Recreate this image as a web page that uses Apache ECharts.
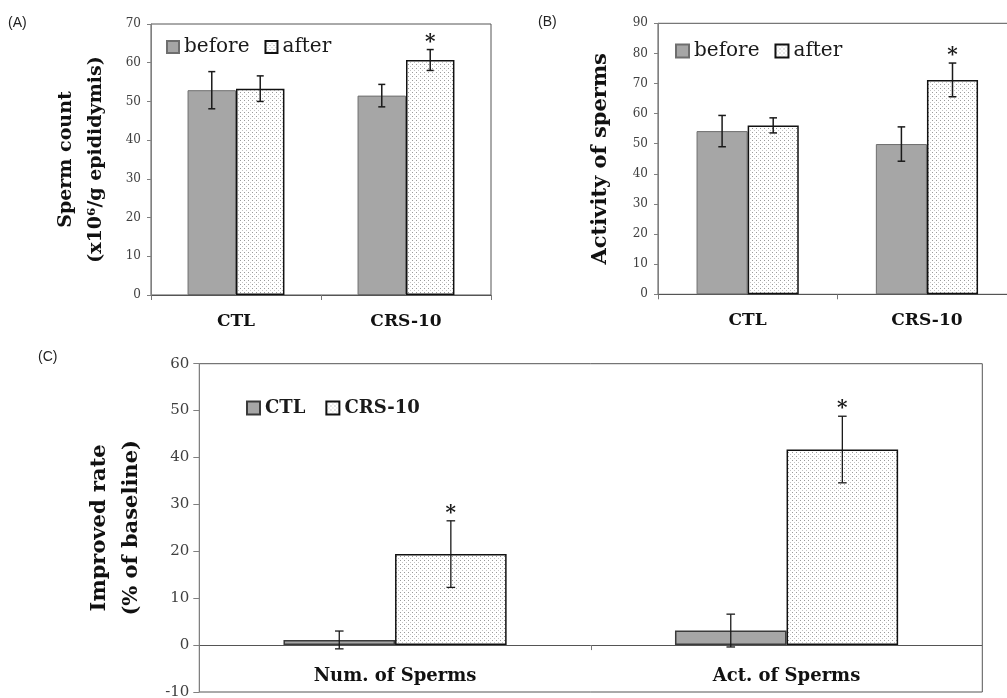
<!DOCTYPE html>
<html>
<head>
<meta charset="utf-8">
<script src="https://cdn.jsdelivr.net/npm/echarts@6/dist/echarts.min.js"></script>
<style>
html,body{margin:0;padding:0;background:#fff;}
#chart{width:1007px;height:698px;}
</style>
</head>
<body>
<div id="chart"></div>
<script>
// ---------- data ----------
const catsAB = ['CTL', 'CRS-10'];
const beforeA = [52.9, 51.5];
const beforeAErr = [4.8, 2.9];
const afterA = [53.3, 60.7];
const afterAErr = [3.3, 2.7];
const afterASig = [0, 1];

const beforeB = [54.2, 49.9];
const beforeBErr = [5.2, 5.7];
const afterB = [56.1, 71.2];
const afterBErr = [2.5, 5.6];
const afterBSig = [0, 1];

const catsC = ['Num. of Sperms', 'Act. of Sperms'];
const ctlC = [1.1, 3.1];
const ctlCErr = [1.9, 3.5];
const crsC = [19.4, 41.7];
const crsCErr = [7.1, 7.1];
const crsCSig = [1, 1];

const ticksA = {min: 0, max: 70, interval: 10};
const ticksB = {min: 0, max: 90, interval: 10};
const ticksC = {min: -10, max: 60, interval: 10};

// ---------- styles ----------
const SERIF = 'DejaVu Serif';
const GAP = 0.43;
function dotPattern() {
  const c = document.createElement('canvas');
  c.width = 4; c.height = 4;
  const g = c.getContext('2d');
  g.fillStyle = '#ffffff'; g.fillRect(0, 0, 4, 4);
  g.fillStyle = '#9a9a9a'; g.fillRect(0, 0, 1, 1);
  g.fillStyle = '#c4c4c4'; g.fillRect(2, 2, 1, 1);
  return {image: c, repeat: 'repeat'};
}
const pattern = dotPattern();

function errRender(barIdx, capHalf, lw) {
  return function (params, api) {
    const idx = api.value(0), v = api.value(1), e = api.value(2), sig = api.value(3);
    const catW = api.size([1, 0])[0];
    const bw = catW * (1 - GAP) / 2;
    const off = barIdx === 0 ? -bw / 2 : bw / 2;
    const t = api.coord([idx, v + e]);
    const b = api.coord([idx, v - e]);
    const x = t[0] + off;
    const st = {stroke: '#1a1a1a', lineWidth: lw};
    const children = [
      {type: 'line', shape: {x1: x, y1: t[1], x2: x, y2: b[1]}, style: st},
      {type: 'line', shape: {x1: x - capHalf, y1: t[1], x2: x + capHalf, y2: t[1]}, style: st},
      {type: 'line', shape: {x1: x - capHalf, y1: b[1], x2: x + capHalf, y2: b[1]}, style: st}
    ];
    if (sig) {
      children.push({type: 'text', style: {text: '*', x: x, y: t[1] - 7, align: 'center', verticalAlign: 'middle',
        font: 'bold 20px "' + SERIF + '"', fill: '#1a1a1a'}});
    }
    return {type: 'group', children: children};
  };
}
function errData(vals, errs, sigs) {
  return vals.map((v, i) => [i, v, errs[i], sigs ? sigs[i] : 0]);
}

function yAxisOf(gi, t, name, nameGap, fs, lh, labelFs, tickLen) {
  return {
    type: 'value', gridIndex: gi, min: t.min, max: t.max, interval: t.interval,
    name: name, nameLocation: 'middle', nameGap: nameGap, nameRotate: 90,
    nameTextStyle: {fontFamily: SERIF, fontWeight: 'bold', fontSize: fs, lineHeight: lh, color: '#111'},
    axisLine: {show: true, lineStyle: {color: '#808080', width: 1}},
    axisTick: {show: true, length: tickLen, lineStyle: {color: '#808080'}},
    axisLabel: {fontFamily: SERIF, fontSize: labelFs, color: '#404040', margin: 10},
    splitLine: {show: false}
  };
}
function xAxisOf(gi, cats, fs, margin, offset) {
  return {
    type: 'category', gridIndex: gi, data: cats, offset: offset || 0,
    axisLine: {show: true, onZero: false, lineStyle: {color: '#555', width: 1}},
    axisTick: {show: true, length: 5, lineStyle: {color: '#777'}},
    axisLabel: {fontFamily: SERIF, fontWeight: 'bold', fontSize: fs, color: '#111', margin: margin, interval: 0},
    splitLine: {show: false}
  };
}
function barOf(name, gi, data, color, border, bw) {
  return {
    type: 'bar', name: name, xAxisIndex: gi, yAxisIndex: gi, data: data,
    barGap: '0%', barCategoryGap: (GAP * 100) + '%',
    itemStyle: {color: color, borderColor: border, borderWidth: bw},
    emphasis: {disabled: true}, z: 2
  };
}
function errOf(gi, data, barIdx, capHalf, lw) {
  return {
    type: 'custom', xAxisIndex: gi, yAxisIndex: gi, data: data,
    renderItem: errRender(barIdx, capHalf, lw), z: 4, silent: true
  };
}

const gridC = {left: 199.3, top: 363.7, width: 783, height: 328.3};
// x axis of panel C sits on the zero line: shift it up by the pixel height of [min, 0]
const zeroOffsetC = -gridC.height * (0 - ticksC.min) / (ticksC.max - ticksC.min);

const gray = '#a6a6a6';
const legendBase = {itemGap: 15, selectedMode: false, padding: 0, icon: 'rect'};
const option = {
  backgroundColor: '#fff',
  animation: false,
  grid: [
    {left: 151, top: 24, width: 340, height: 271, show: true, borderColor: '#555', borderWidth: 1, outerBoundsMode: 'none'},
    {left: 658, top: 23.3, width: 358.6, height: 271, show: true, borderColor: '#555', borderWidth: 1, outerBoundsMode: 'none'},
    Object.assign({show: true, borderColor: '#555', borderWidth: 1, outerBoundsMode: 'none'}, gridC)
  ],
  xAxis: [
    xAxisOf(0, catsAB, 17, 18),
    xAxisOf(1, catsAB, 17, 18),
    xAxisOf(2, catsC, 18, 22, zeroOffsetC)
  ],
  yAxis: [
    yAxisOf(0, ticksA, 'Sperm count\n(x10\u2076/g epididymis)', 40, 19, 30, 12, 4),
    yAxisOf(1, ticksB, 'Activity of sperms', 44, 21, 26, 12, 4),
    yAxisOf(2, ticksC, 'Improved rate\n(% of baseline)', 52, 21, 32, 15, 6)
  ],
  legend: [
    Object.assign({}, legendBase, {data: ['before', 'after'], left: 166, top: 37, itemWidth: 12, itemHeight: 12,
      textStyle: {fontFamily: SERIF, fontSize: 20, color: '#1a1a1a'}}),
    Object.assign({}, legendBase, {data: ['before', 'after'], left: 675, top: 41, itemWidth: 13, itemHeight: 13,
      textStyle: {fontFamily: SERIF, fontSize: 20, color: '#1a1a1a'}}),
    Object.assign({}, legendBase, {data: ['CTL', 'CRS-10'], left: 246, top: 399, itemWidth: 13, itemHeight: 13, itemGap: 20,
      textStyle: {fontFamily: SERIF, fontSize: 18, fontWeight: 'bold', color: '#1a1a1a'}})
  ],
  graphic: [
    {type: 'text', left: 8, top: 16, style: {text: '(A)', font: '14px "Liberation Sans"', fill: '#222'}},
    {type: 'text', left: 538, top: 15, style: {text: '(B)', font: '14px "Liberation Sans"', fill: '#222'}},
    {type: 'text', left: 38, top: 350, style: {text: '(C)', font: '14px "Liberation Sans"', fill: '#222'}}
  ],
  series: [
    barOf('before', 0, beforeA, gray, '#6e6e6e', 1),
    barOf('after', 0, afterA, pattern, '#111', 1.5),
    errOf(0, errData(beforeA, beforeAErr), 0, 3.5, 1.5),
    errOf(0, errData(afterA, afterAErr, afterASig), 1, 3.5, 1.5),

    barOf('before', 1, beforeB, gray, '#6e6e6e', 1),
    barOf('after', 1, afterB, pattern, '#111', 1.5),
    errOf(1, errData(beforeB, beforeBErr), 0, 3.8, 1.5),
    errOf(1, errData(afterB, afterBErr, afterBSig), 1, 3.8, 1.5),

    barOf('CTL', 2, ctlC, gray, '#3a3a3a', 1.5),
    barOf('CRS-10', 2, crsC, pattern, '#111', 1.5),
    errOf(2, errData(ctlC, ctlCErr), 0, 4.3, 1.3),
    errOf(2, errData(crsC, crsCErr, crsCSig), 1, 4.3, 1.3)
  ]
};
const chart = echarts.init(document.getElementById('chart'), null, {renderer: 'canvas'});
chart.setOption(option);
</script>
</body>
</html>
